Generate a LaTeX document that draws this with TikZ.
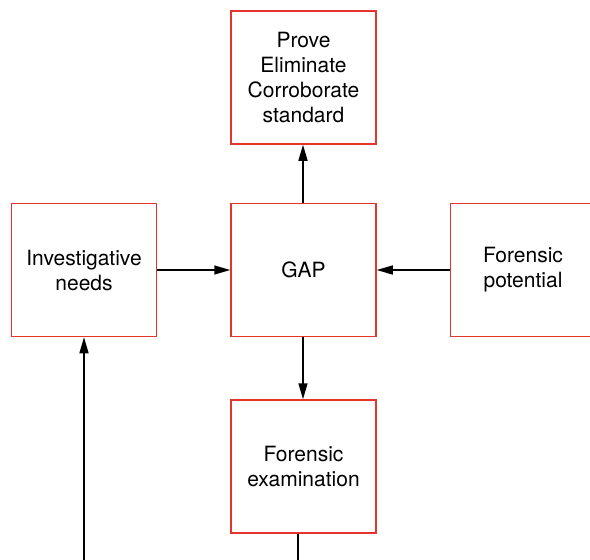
\documentclass[tikz,border=0pt]{standalone}
\usepackage{fontspec}
\setmainfont{TeX Gyre Heros}
\usetikzlibrary{positioning,arrows.meta}
\definecolor{boxred}{RGB}{228,52,44}
\newcommand{\boxFont}[0]{\fontsize{21}{25}\selectfont}

\begin{document}
\begin{tikzpicture}[x=1pt, y=-1pt]
  \tikzset{
    stage/.style={draw=boxred, line width=1.5pt, rectangle,
      minimum width=145pt, minimum height=133pt, inner sep=0pt,
      align=center, font=\boxFont},
    flow/.style={line width=1.5pt, -{Triangle[length=16pt,width=9pt]}}
  }
  \useasboundingbox (0,0) rectangle (590,560);
  \node[stage] (gap) at (303.5,270) {GAP};
  \node[stage, above=58pt of gap] (standard) {Prove\\Eliminate\\Corroborate\\standard};
  \node[stage, left=73pt of gap] (needs) {Investigative\\needs};
  \node[stage, right=73pt of gap] (potential) {Forensic\\potential};
  \node[stage, below=62pt of gap] (exam) {Forensic\\examination};
  % open ends at the lower edge
  \coordinate (examEnd) at ([xshift=-5.5pt]exam.south |- 0,560);
  \coordinate (needsEnd) at (needs.south |- 0,560);
  \draw[flow] ([xshift=-0.5pt]gap.north) -- ([xshift=-0.5pt]standard.south);
  \draw[flow] (needs) -- (gap);
  \draw[flow] (potential) -- (gap);
  \draw[flow] ([xshift=-0.5pt]gap.south) -- ([xshift=-0.5pt]exam.north);
  \draw[flow] (needsEnd) -- (needs);
  \draw[line width=1.5pt] ([xshift=-5.5pt]exam.south) -- (examEnd);
\end{tikzpicture}
\end{document}
